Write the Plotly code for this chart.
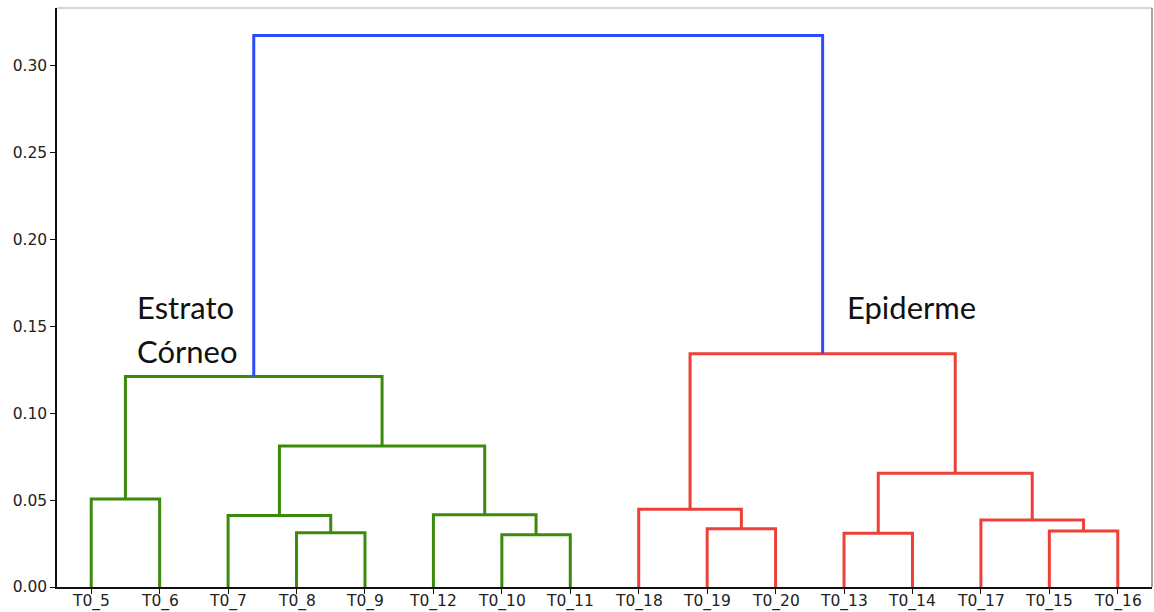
import plotly.graph_objects as go

# Leaf order along the x axis
leaves = ["T0_5", "T0_6", "T0_7", "T0_8", "T0_9", "T0_12", "T0_10", "T0_11",
          "T0_18", "T0_19", "T0_20", "T0_13", "T0_14", "T0_17", "T0_15", "T0_16"]

# Agglomerative merges: id, children (leaf label or earlier merge id), distance
merge_ids = ["m1", "m2", "m3", "m4", "m5", "m6", "m7", "m8",
             "m9", "m10", "m11", "m12", "m13", "m14", "m15"]
merge_left = ["T0_5", "T0_8", "T0_7", "T0_10", "T0_12", "m3", "m1", "T0_19",
              "T0_18", "T0_13", "T0_15", "T0_17", "m10", "m9", "m7"]
merge_right = ["T0_6", "T0_9", "m2", "T0_11", "m4", "m5", "m6", "T0_20",
               "m8", "T0_14", "T0_16", "m11", "m12", "m13", "m14"]
merge_height = [0.0506, 0.0312, 0.0411, 0.0301, 0.0416, 0.0812, 0.1212, 0.0335,
                0.0448, 0.0310, 0.0322, 0.0385, 0.0655, 0.1343, 0.3174]

cluster_colors = ["#3c8a0c", "#ec4038"]
above_color = "#2c4cff"
threshold = 0.7 * max(merge_height)

y_ticks = [0.00, 0.05, 0.10, 0.15, 0.20, 0.25, 0.30]

# leaf positions as in scipy: 5, 15, 25, ...
pos = {name: 5 + 10 * i for i, name in enumerate(leaves)}
hgt = {name: 0.0 for name in leaves}
children = {}
for mid, a, b, h in zip(merge_ids, merge_left, merge_right, merge_height):
    pos[mid] = (pos[a] + pos[b]) / 2
    hgt[mid] = h
    children[mid] = (a, b)

# colours: links above the threshold share one colour, each cluster below gets its own
link_color = {}
roots_below = []


def collect(node):
    if node not in children:
        return
    if hgt[node] >= threshold:
        link_color[node] = above_color
        for c in children[node]:
            collect(c)
    else:
        roots_below.append(node)


def paint(node, col):
    if node in children:
        link_color[node] = col
        for c in children[node]:
            paint(c, col)


collect(merge_ids[-1])
for i, r in enumerate(roots_below):
    paint(r, cluster_colors[i % len(cluster_colors)])

fig = go.Figure()
for mid in merge_ids:
    a, b = children[mid]
    xs = [pos[a], pos[a], pos[b], pos[b]]
    ys = [hgt[a], hgt[mid], hgt[mid], hgt[b]]
    fig.add_trace(go.Scatter(x=xs, y=ys, mode="lines",
                             line=dict(color=link_color[mid], width=3),
                             hoverinfo="skip", showlegend=False))

ymax = max(merge_height) * 1.05
tick_font = dict(family="DejaVu Sans", size=15.5, color="#222222")
leaf_font = dict(family="DejaVu Sans", size=15.5, color="#222222")
label_font = dict(family="Lato", size=31, color="#111111")

# leaf names placed just under the axis line
leaf_labels = [
    dict(text=n, x=pos[n], y=0, xref="x", yref="paper", xanchor="center",
         yanchor="top", yshift=-4, showarrow=False, font=leaf_font, borderpad=0)
    for n in leaves
]

fig.update_layout(
    width=1154, height=612,
    margin=dict(l=57, r=2, t=8, b=25),
    plot_bgcolor="white", paper_bgcolor="white",
    xaxis=dict(range=[0, 10 * len(leaves)], tickvals=[pos[n] for n in leaves],
               showticklabels=False, showgrid=False, zeroline=False,
               automargin=False, showline=True, linecolor="#111111",
               linewidth=1.5, ticks="outside", ticklen=5, tickcolor="#111111"),
    yaxis=dict(range=[0, ymax], tickvals=y_ticks,
               ticktext=[f"{v:.2f}" for v in y_ticks],
               showgrid=False, zeroline=False, automargin=False,
               showline=True, linecolor="#111111", linewidth=1.5,
               ticks="outside", ticklen=5, tickcolor="#111111",
               tickfont=tick_font),
    shapes=[
        dict(type="line", xref="paper", yref="paper", x0=0, x1=1, y0=1, y1=1,
             line=dict(color="#c8c8c8", width=1.5)),
        dict(type="line", xref="paper", yref="paper", x0=1, x1=1, y0=0, y1=1,
             line=dict(color="#8a8a8a", width=1.5)),
    ],
    annotations=leaf_labels + [
        dict(text="Estrato", x=11.4, y=0.161, xref="x", yref="y",
             xanchor="left", yanchor="middle", showarrow=False, font=label_font),
        dict(text="Córneo", x=11.4, y=0.136, xref="x", yref="y",
             xanchor="left", yanchor="middle", showarrow=False, font=label_font),
        dict(text="Epiderme", x=124.9, y=0.161, xref="x", yref="y",
             xanchor="center", yanchor="middle", showarrow=False, font=label_font),
    ],
)

fig.write_html("out.html")
